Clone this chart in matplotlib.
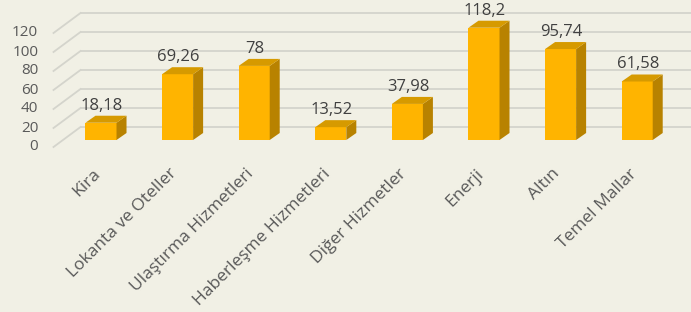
import matplotlib
matplotlib.use("Agg")
import matplotlib.pyplot as plt
from matplotlib.patches import Polygon
from matplotlib.transforms import offset_copy

categories = ["Kira", "Lokanta ve Oteller", "Ulaştırma Hizmetleri", "Haberleşme Hizmetleri",
              "Diğer Hizmetler", "Enerji", "Altın", "Temel Mallar"]
values = [18.18, 69.26, 78, 13.52, 37.98, 118.2, 95.74, 61.58]
value_labels = ["18,18", "69,26", "78", "13,52", "37,98", "118,2", "95,74", "61,58"]
yticks = [0, 20, 40, 60, 80, 100, 120]

BG = "#F1F0E5"
FRONT = "#FFB400"
SIDE = "#B88200"
TOP = "#D69A00"
GRID = "#D4D4CC"
TXT = "#595959"

plt.rcParams['font.family'] = ['Open Sans', 'DejaVu Sans']

fig = plt.figure(figsize=(6.91, 3.12), dpi=100)
fig.patch.set_facecolor(BG)
ax = fig.add_axes([0, 0, 1, 1])
ax.set_facecolor(BG)
ax.set_axis_off()

# data units so that one category = 76.6 px and one unit of value = 0.95 px
ax.set_xlim(-101 / 76.6, (691 - 101) / 76.6)
ax.set_ylim((140 - 312) / 0.95, 140 / 0.95)

w = 0.405          # bar width
dx = 10 / 76.6     # depth offset, x
dy = 7 / 0.95      # depth offset, y
wall_dx, wall_dy = 27 / 76.6, 13 / 0.95
front_dy = -7 / 0.95
x0 = -0.62

# back wall gridlines + diagonal floor/wall lines
for g in yticks:
    ax.plot([x0 + wall_dx, 7.75], [g + wall_dy, g + wall_dy], color=GRID, lw=1.3, zorder=1)
    ax.plot([x0, x0 + wall_dx], [g + front_dy, g + wall_dy], color=GRID, lw=1.3, zorder=1)
    ax.text(-0.82, g + front_dy, str(g), ha="right", va="center", fontsize=11, color=TXT)

for i, v in enumerate(values):
    l, r = i - w / 2, i + w / 2
    ax.bar(i, v, width=w, color=FRONT, zorder=3)
    ax.add_patch(Polygon([(r, 0), (r + dx, dy), (r + dx, v + dy), (r, v)],
                         closed=True, facecolor=SIDE, edgecolor="none", zorder=3))
    ax.add_patch(Polygon([(l, v), (l + dx, v + dy), (r + dx, v + dy), (r, v)],
                         closed=True, facecolor=TOP, edgecolor="none", zorder=3))
    ax.text(i + 0.01, v + 18, value_labels[i], ha="center", va="center",
            fontsize=12, color="#404040", zorder=4)
    t = offset_copy(ax.transData, fig=fig, x=-3, y=0, units="dots")
    ax.text(i, -33, categories[i], transform=t, rotation=45, rotation_mode="anchor",
            ha="right", va="center", fontsize=12.5, color=TXT)

fig.savefig("out.png", dpi=100, facecolor=BG)
